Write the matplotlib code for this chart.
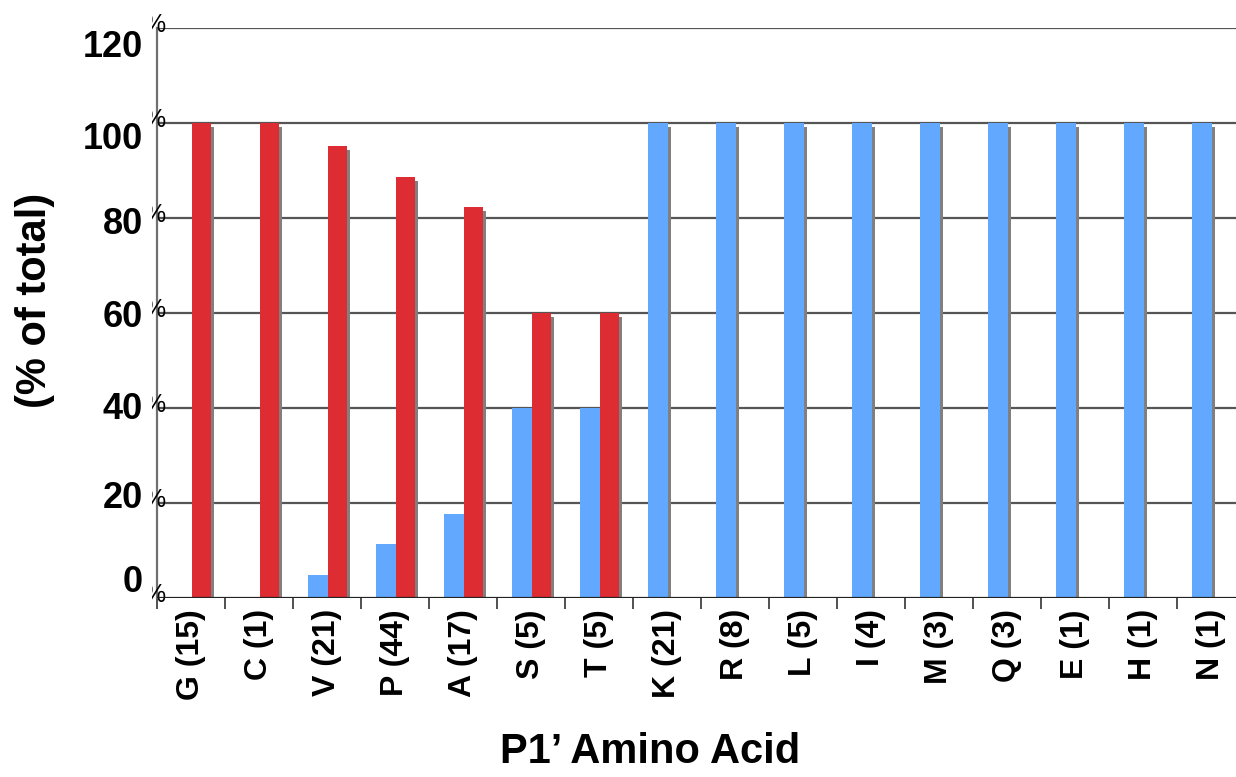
import matplotlib
matplotlib.use("Agg")
import matplotlib.pyplot as plt
from matplotlib.transforms import Bbox
import numpy as np

plt.rcParams['font.family'] = ['Liberation Sans', 'DejaVu Sans']
plt.rcParams['font.weight'] = 'bold'

categories = ["G (15)", "C (1)", "V (21)", "P (44)", "A (17)", "S (5)", "T (5)",
              "K (21)", "R (8)", "L (5)", "I (4)", "M (3)", "Q (3)", "E (1)",
              "H (1)", "N (1)"]
blue_vals = [0, 0, 4.8, 11.4, 17.6, 40, 40, 100, 100, 100, 100, 100, 100, 100, 100, 100]
red_vals = [100, 100, 95.2, 88.6, 82.4, 60, 60, 0, 0, 0, 0, 0, 0, 0, 0, 0]
y_ticks = [0, 20, 40, 60, 80, 100, 120]
y_label_pos = [3.2, 21, 39.6, 59, 78.7, 96.6, 115.8]

blue = "#62a8ff"
red = "#de2c33"
shadow = "#808080"

fig = plt.figure(figsize=(12.36, 7.77), dpi=100)
W, H = 1236, 777
ax = fig.add_axes([157 / W, (H - 598) / H, 1088 / W, 570 / H])

x = np.arange(len(categories))
bw = 0.29
dx = 3 / 68.0      # shadow shift right
dy = 0.85          # shadow drop

for vals, left, col in [(blue_vals, x - 0.28, blue), (red_vals, x + 0.01, red)]:
    v = np.array(vals, dtype=float)
    ax.bar(left + dx, np.clip(v - dy, 0, None), width=bw, align='edge',
           color=shadow, zorder=2, linewidth=0)
for vals, left, col in [(blue_vals, x - 0.28, blue), (red_vals, x + 0.01, red)]:
    ax.bar(left, vals, width=bw, align='edge', color=col, zorder=3, linewidth=0)

ax.set_xlim(-0.5, len(categories) - 0.5)
ax.set_ylim(0, 120)

for yt in y_ticks[1:]:
    ax.axhline(yt, color="#555555", lw=1.6, zorder=1)
ax.axhline(0, color="#222222", lw=1.6, zorder=4)

for s in ['top', 'right', 'bottom']:
    ax.spines[s].set_visible(False)
ax.spines['left'].set_color("#707070")
ax.spines['left'].set_linewidth(1.6)

ax.set_yticks([])
ax.set_xticks(np.arange(len(categories) + 1) - 0.5, minor=True)
ax.set_xticks(x)
ax.set_xticklabels(categories, rotation=90, fontsize=23, fontweight='bold')
ax.tick_params(axis='x', which='major', length=0, pad=8)
ax.tick_params(axis='x', which='minor', length=8, width=1.2, color='#333333')

trans = ax.get_yaxis_transform()
for yt, yp in zip(y_ticks, y_label_pos):
    ax.text(-0.013, yp, str(yt), transform=trans, ha='right', va='center',
            fontsize=26, fontweight='bold', clip_on=False)
    # clipped percent signs left over at the axis
    t = ax.text(0.0075, yt - 0.85, "%", transform=trans, ha='right', va='baseline',
                fontsize=18, fontweight='normal', clip_on=True)
    t.set_clip_box(Bbox.from_extents(152, 0, 175, H))

fig.text(650 / W, 1 - 752 / H, "P1\u2019 Amino Acid", ha='center', va='center',
         fontsize=30, fontweight='bold')
fig.text(35 / W, 1 - 300 / H, "(% of total)", rotation=90, ha='center', va='center',
         fontsize=30, fontweight='bold')

fig.savefig("out.png", dpi=100)
